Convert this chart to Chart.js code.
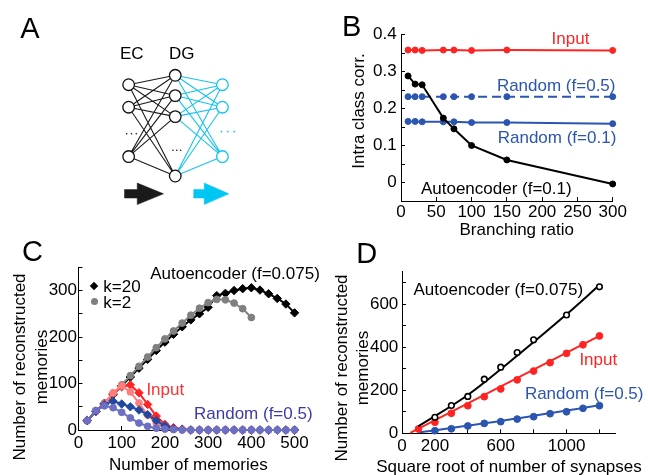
<!DOCTYPE html>
<html><head><meta charset="utf-8"><title>Figure</title>
<script src="https://cdn.jsdelivr.net/npm/chart.js@4.4.1/dist/chart.umd.min.js"></script>
<style>
html,body{margin:0;padding:0;background:#fff;}
#fig{position:relative;width:648px;height:475px;overflow:hidden;background:#fff;font-family:"Liberation Sans",Arial,Helvetica,sans-serif;}
#fig canvas{position:absolute;}
.t{position:absolute;white-space:nowrap;line-height:1;font-size:17px;color:#000;}
.mk{position:absolute;}
</style></head>
<body><div id="fig">
<canvas id="cA" width="330" height="230" style="left:0;top:0"></canvas>
<canvas id="cB" width="318" height="245" style="left:330px;top:0"></canvas>
<canvas id="cC" width="330" height="245" style="left:0;top:230px"></canvas>
<canvas id="cD" width="318" height="245" style="left:330px;top:230px"></canvas>
</div>
<script>
// ===== Panel A: network diagram (EC -> DG -> output) =====
const layerX = [127, 175.7, 225];
const ecNodesY = [82.7, 106.7, 159.3];
const dgNodesY = [72.7, 94.3, 116.7, 180];
const outNodesY = [82.7, 106.7, 159.3];
const ecDotsX = [125, 130, 135];   const ecDotsY = 135;
const dgDotsX = [173.3, 177.3, 181.3]; const dgDotsY = 152.5;
const outDotsX = [224, 230.7, 237.3]; const outDotsY = 132.7;
const arrowBlack = [[122.7,194.5],[136,194.5],[136,187.5],[163.5,199],[136,210.5],[136,203.5],[122.7,203.5],[122.7,194.5]];
const arrowCyan  = [[195,194.5],[206,194.5],[206,187.5],[231.7,199],[206,210.5],[206,203.5],[195,203.5],[195,194.5]];

// ===== Panel B: intra class correlation vs branching ratio =====
const branchingRatio = [10, 20, 30, 60, 75, 100, 150, 300];
const corrInput       = [0.358, 0.358, 0.357, 0.358, 0.358, 0.357, 0.358, 0.357];
const corrRandom05    = [0.232, 0.232, 0.232, 0.232, 0.232, 0.232, 0.232, 0.232];
const corrRandom01    = [0.165, 0.165, 0.164, 0.164, 0.164, 0.162, 0.162, 0.159];
const corrAutoencoder = [0.288, 0.266, 0.264, 0.174, 0.145, 0.100, 0.061, -0.004];
const branchTicks = [0, 50, 100, 150, 200, 250, 300];
const branchTickLabels = ['0', '50', '100', '150', '200', '250', '300'];
const corrTicks = [0, 0.05, 0.1, 0.15, 0.2, 0.25, 0.3, 0.35, 0.4];
const corrLabelValues = [0, 0.1, 0.2, 0.3, 0.4];
const corrTickLabels = ['0', '0.1', '0.2', '0.3', '0.4'];

// ===== Panel C: reconstructed vs stored memories =====
const memoriesK20 = [20,40,60,80,100,120,140,160,180,200,220,240,260,280,300,320,340,360,380,400,420,440,460,480,500];
const memoriesK2  = [20,40,60,80,100,120,140,160,180,200,220,240,260,280,300,320,340,360,380,400];
const autoK20   = [20,40,57,76,95,114,133,152,171,189,206,222,237,250,264,289,294,300,304,306,301,293,283,271,252];
const autoK2    = [20,40,58,78,97,117,137,157,177,196,213,230,247,262,274,281,280,273,261,242];
const inputK20  = [20,40,57,78,93,97,80,55,30,12,5,2,0,0,0,0,0,0,0,0,0,0,0,0,0];
const inputK2   = [20,40,56,80,95,82,58,32,14,5,2,1,0,0,0,0,0,0,0,0];
const randomK20 = [20,40,55,62,56,50,43,33,20,9,3,1,0,0,0,0,0,0,0,0,0,0,0,0,0];
const randomK2  = [20,42,52,48,38,26,15,8,4,2,1,0,0,0,0,0,0,0,0,0,0,0,0,0,0];
const memTicks = [0, 100, 200, 300, 400, 500];
const memTickLabels = ['0', '100', '200', '300', '400', '500'];
const recTicksC = [0, 50, 100, 150, 200, 250, 300, 350];
const recLabelValuesC = [0, 100, 200, 300];
const recTickLabelsC = ['0', '100', '200', '300'];

// ===== Panel D: reconstructed memories vs sqrt(#synapses) =====
const synSqrt      = [100,200,300,400,500,600,700,800,900,1000,1100,1200];
const inputMemD    = [20,51,93,128,170,206,248,289,328,371,411,452];
const randomSynX   = [200,300,400,500,600,700,800,900,1000,1100,1200];
const randomMemD   = [12,21,34,46,54,66,77,91,100,116,128];
const autoSynX     = [200,300,400,500,600,700,800,1000,1200];
const autoMemD     = [74,129,171,251,307,375,434,549,680];
const autoFitX     = [100,400,700,1000,1200];
const autoFitY     = [33,178,360,552,688];
const inputFitX    = [50,1200];
const inputFitY    = [2,452];
const randomFitX   = [100,600,1200];
const randomFitY   = [4,57,130];
const synTicks = [0,200,400,600,800,1000,1200];
const synLabelValues = [0,200,600,1000];
const synTickLabels = ['0','200','600','1000'];
const recTicksD = [0,100,200,300,400,500,600,700];
const recLabelValuesD = [0,200,400,600];
const recTickLabelsD = ['0','200','400','600'];

// ===== rendering =====
const FONT = '"Liberation Sans", Arial, Helvetica, sans-serif';
Chart.defaults.font.family = FONT;
Chart.defaults.font.size = 17;
Chart.defaults.color = '#000';

const RED = '#ff2424', PINK = '#ff7d7d', BLUE = '#2b55b0', DBLUE = '#23499f', PERI = '#6d70c2', GRAY = '#808080', CYAN = '#14c4ee';

const xy = (xs, ys) => xs.map((x, i) => ({x, y: ys[i]}));
function series(xs, ys, color, extra) {
  return Object.assign({
    data: xy(xs, ys), showLine: true, borderColor: color, backgroundColor: color,
    pointBackgroundColor: color, pointBorderColor: color, borderWidth: 2,
    pointRadius: 3, pointBorderWidth: 1, pointStyle: 'circle', clip: false
  }, extra || {});
}
function axis(pos, min, max, ticks, labelVals, labelTxt, pad, size) {
  return {
    type: 'linear', position: pos, min, max,
    afterBuildTicks: s => { s.ticks = ticks.map(v => ({value: v})); },
    afterFit: s => { if (pos === 'left') s.width = size; else s.height = size; },
    border: {display: true, color: '#000', width: 1},
    grid: {display: true, drawOnChartArea: false, drawTicks: true, tickLength: -4, color: '#000', lineWidth: 1},
    ticks: {autoSkip: false, maxRotation: 0, minRotation: 0, padding: pad, color: '#000', font: {size: 17},
      callback: v => { const i = labelVals.findIndex(t => Math.abs(t - v) < 1e-9); return i < 0 ? '' : labelTxt[i]; }}
  };
}
function baseOptions(padding, scales) {
  return {
    responsive: false, animation: false, devicePixelRatio: 1, events: [],
    layout: {padding},
    plugins: {legend: {display: false}, tooltip: {enabled: false}, title: {display: false}},
    scales
  };
}

// Panel A chart (diagram drawn on hidden 1:1 axes)
(function () {
  const edges = (x1, ys1, x2, ys2) => {
    const pts = [];
    ys1.forEach(a => ys2.forEach(b => { pts.push({x: x1, y: a}, {x: x2, y: b}, {x: x2, y: null}); }));
    return pts;
  };
  const nodes = (x, ys) => ys.map(y => ({x, y}));
  const dots = (xs, y) => xs.map(x => ({x, y}));
  const poly = p => p.map(([x, y]) => ({x, y}));
  new Chart(document.getElementById('cA'), {
    type: 'scatter',
    data: {datasets: [
      {data: nodes(layerX[0], ecNodesY).concat(nodes(layerX[1], dgNodesY)), pointRadius: 5.8, pointBorderWidth: 1.3,
       pointBackgroundColor: '#fff', pointBorderColor: '#111', showLine: false, clip: false},
      {data: nodes(layerX[2], outNodesY), pointRadius: 5.8, pointBorderWidth: 1.3,
       pointBackgroundColor: '#fff', pointBorderColor: CYAN, showLine: false, clip: false},
      {data: dots(ecDotsX, ecDotsY).concat(dots(dgDotsX, dgDotsY)), pointRadius: 0.8, pointBorderWidth: 0,
       pointBackgroundColor: '#111', showLine: false, clip: false},
      {data: dots(outDotsX, outDotsY), pointRadius: 0.9, pointBorderWidth: 0,
       pointBackgroundColor: CYAN, showLine: false, clip: false},
      {data: edges(layerX[0], ecNodesY, layerX[1], dgNodesY), showLine: true, spanGaps: false, borderColor: '#1a1a1a',
       borderWidth: 1.1, pointRadius: 0, clip: false},
      {data: edges(layerX[1], dgNodesY, layerX[2], outNodesY), showLine: true, spanGaps: false, borderColor: CYAN,
       borderWidth: 1.1, pointRadius: 0, clip: false},
      {data: poly(arrowBlack), showLine: true, fill: 'shape', backgroundColor: '#1a1a1a', borderColor: '#1a1a1a',
       borderWidth: 0.5, pointRadius: 0, clip: false},
      {data: poly(arrowCyan), showLine: true, fill: 'shape', backgroundColor: '#00c6f2', borderColor: '#00c6f2',
       borderWidth: 0.5, pointRadius: 0, clip: false}
    ]},
    options: baseOptions(0, {
      x: {type: 'linear', min: 0, max: 330, display: false},
      y: {type: 'linear', min: 0, max: 230, reverse: true, display: false}
    })
  });
})();

// Panel B
new Chart(document.getElementById('cB'), {
  type: 'scatter',
  data: {datasets: [
    series(branchingRatio, corrAutoencoder, '#000'),
    series(branchingRatio, corrRandom01, BLUE),
    series(branchingRatio, corrRandom05, BLUE, {borderDash: [9, 5]}),
    series(branchingRatio, corrInput, RED)
  ]},
  options: baseOptions({left: 0, top: 34.5, right: 35.3, bottom: 0}, {
    x: axis('bottom', 0, 300, branchTicks, branchTicks, branchTickLabels, 4.8, 44),
    y: axis('left', -0.05, 0.4, corrTicks, corrLabelValues, corrTickLabels, 8.3, 71)
  })
});

// Panel C
new Chart(document.getElementById('cC'), {
  type: 'scatter',
  data: {datasets: [
    series(memoriesK20, randomK2, PERI, {pointRadius: 3.4, borderWidth: 2}),
    series(memoriesK20, randomK20, DBLUE, {pointStyle: 'rectRot', pointRadius: 4.2, borderWidth: 2}),
    series(memoriesK2, inputK2, PINK, {pointRadius: 3.4, borderWidth: 2}),
    series(memoriesK20, inputK20, RED, {pointStyle: 'rectRot', pointRadius: 4.2, borderWidth: 2}),
    series(memoriesK2, autoK2, GRAY, {pointRadius: 3.4, borderWidth: 2}),
    series(memoriesK20, autoK20, '#000', {pointStyle: 'rectRot', pointRadius: 4.2, borderWidth: 2})
  ]},
  options: baseOptions({left: 0, top: 37.3, right: 33.3, bottom: 0}, {
    x: axis('bottom', 0, 505, memTicks, memTicks, memTickLabels, 6.8, 45),
    y: axis('left', 0, 350, recTicksC, recLabelValuesC, recTickLabelsC, 5.5, 78.5)
  })
});

// Panel D
new Chart(document.getElementById('cD'), {
  type: 'scatter',
  data: {datasets: [
    series(autoSynX, autoMemD, '#000', {showLine: false, pointBackgroundColor: '#fff', pointRadius: 2.8, pointBorderWidth: 1.6}),
    series(autoFitX, autoFitY, '#000', {pointRadius: 0, borderWidth: 2, tension: 0.4, cubicInterpolationMode: 'monotone'}),
    series(synSqrt, inputMemD, RED, {showLine: false, pointRadius: 3.4}),
    series(inputFitX, inputFitY, RED, {pointRadius: 0, borderWidth: 2}),
    series(randomSynX, randomMemD, BLUE, {showLine: false, pointRadius: 3.4}),
    series(randomFitX, randomFitY, BLUE, {pointRadius: 0, borderWidth: 2, tension: 0.4, cubicInterpolationMode: 'monotone'})
  ]},
  options: baseOptions({left: 0, top: 41.7, right: 32.1, bottom: 0}, {
    x: axis('bottom', 0, 1300, synTicks, synLabelValues, synTickLabels, 7.2, 41.7),
    y: axis('left', 0, 750, recTicksD, recLabelValuesD, recTickLabelsD, 7.7, 72)
  })
});

// ===== text (panel letters, annotations, axis titles) =====
const fig = document.getElementById('fig');
function T(text, x, y, o) {
  o = o || {};
  const d = document.createElement('div');
  d.className = 't';
  d.textContent = text;
  d.style.left = x + 'px';
  d.style.top = y + 'px';
  if (o.size) d.style.fontSize = o.size + 'px';
  if (o.color) d.style.color = o.color;
  let tr = o.align === 'left' ? 'translate(0,-50%)' : 'translate(-50%,-50%)';
  if (o.rot) tr += ' rotate(-90deg)';
  d.style.transform = tr;
  fig.appendChild(d);
}
function M(x, y, shape, color) {
  const d = document.createElement('div');
  d.className = 'mk';
  if (shape === 'diamond') {
    Object.assign(d.style, {left: (x - 3) + 'px', top: (y - 3) + 'px', width: '6px', height: '6px', background: color, transform: 'rotate(45deg)'});
  } else {
    Object.assign(d.style, {left: (x - 3.5) + 'px', top: (y - 3.5) + 'px', width: '7px', height: '7px', background: color, borderRadius: '50%'});
  }
  fig.appendChild(d);
}
// letters
T('A', 30, 28.3, {size: 29});
T('B', 351.7, 25.8, {size: 29});
T('C', 32.5, 250.8, {size: 29});
T('D', 366.7, 253.3, {size: 29});
// panel A labels
T('EC', 131.7, 52.5);
T('DG', 181.7, 52.5);
// panel B
T('Input', 570.5, 38, {color: RED});
T('Random (f=0.5)', 556.2, 84.5, {color: BLUE});
T('Random (f=0.1)', 557, 137, {color: BLUE});
T('Autoencoder (f=0.1)', 496.3, 187.8);
T('Intra class corr.', 357.5, 110.8, {rot: true});
T('Branching ratio', 516.7, 228.5);
// panel C
T('Autoencoder (f=0.075)', 235, 272.8);
M(94, 286, 'diamond', '#000');
T('k=20', 103.3, 286, {align: 'left'});
M(94, 301.7, 'circle', GRAY);
T('k=2', 103.3, 301.5, {align: 'left'});
T('Input', 165.3, 389, {color: '#ff3030'});
T('Random (f=0.5)', 253.3, 413, {color: '#3b3ba8'});
T('Number of reconstructed', 19.2, 366.5, {rot: true});
T('memories', 40.8, 366.5, {rot: true});
T('Number of memories', 188.3, 463.8);
// panel D
T('Autoencoder (f=0.075)', 498.3, 289);
T('Input', 598.3, 359, {color: RED});
T('Random (f=0.5)', 584.2, 393, {color: BLUE});
T('Number of reconstructed', 340.8, 368, {rot: true});
T('memories', 362, 368, {rot: true});
T('Square root of number of synapses', 509, 466);
</script>
</body></html>
